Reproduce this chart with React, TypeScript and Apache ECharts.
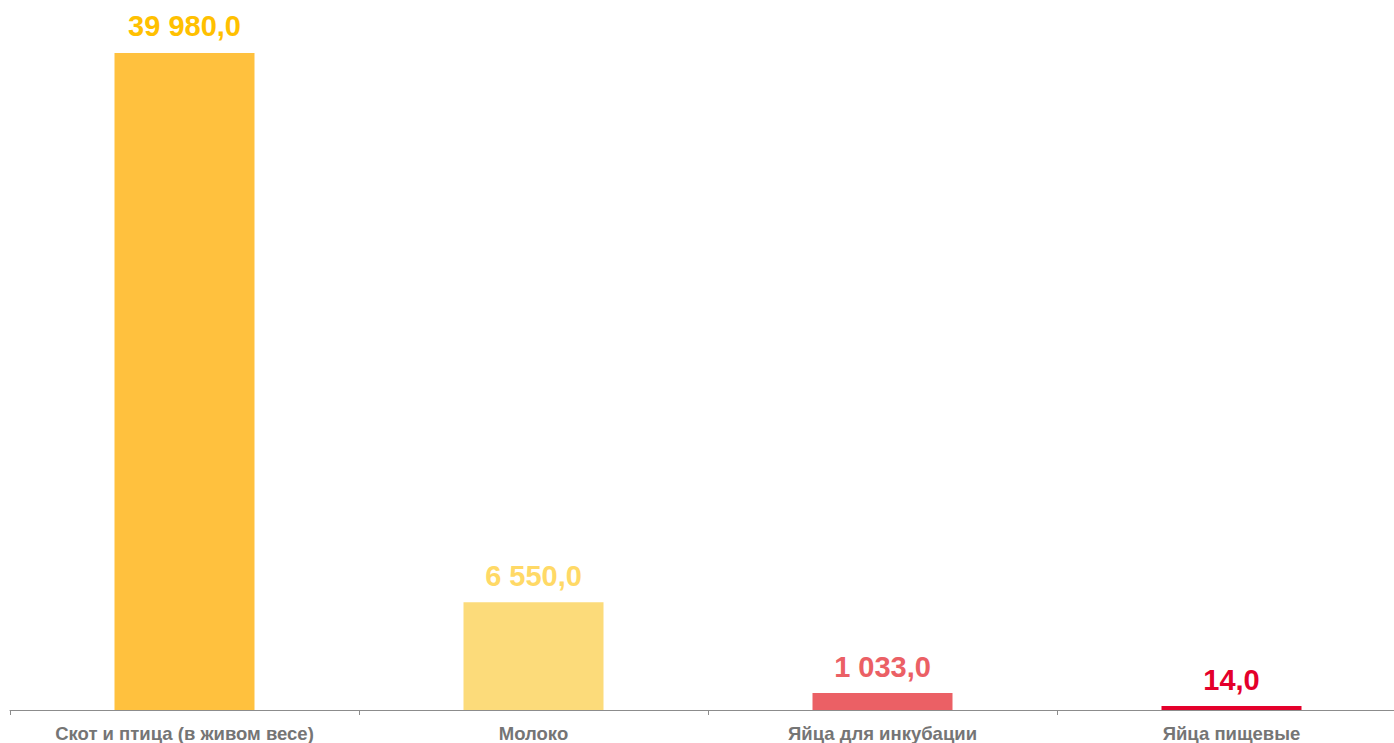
import React, { useEffect, useRef } from "react";
import * as echarts from "echarts";

const categories = ["Скот и птица (в живом весе)", "Молоко", "Яйца для инкубации", "Яйца пищевые"];
const values = [39980, 6550, 1033, 14];
const barColors = ["#FFC13E", "#FCDB7A", "#EB6065", "#E4002B"];
const labelColors = ["#FFC000", "#FFD966", "#EB6065", "#E4002B"];

function fmt(v: number): string {
  const parts = v.toFixed(1).split(".");
  const int = parts[0].replace(/\B(?=(\d{3})+(?!\d))/g, " ");
  return int + "," + parts[1];
}

export default function App() {
  const ref = useRef<HTMLDivElement>(null);
  useEffect(() => {
    if (!ref.current) return;
    const chart = echarts.init(ref.current, null, { renderer: "svg" });
    chart.setOption({
      animation: false,
      grid: { left: 10, top: 52.67, width: 1396, bottom: 32, containLabel: false },
      xAxis: {
        type: "category",
        data: categories,
        axisLine: { lineStyle: { color: "#8C8C8C", width: 1 } },
        axisTick: { show: true, length: 5, lineStyle: { color: "#8C8C8C" } },
        axisLabel: {
          color: "#757575",
          fontSize: 18.5,
          fontWeight: "bold",
          fontFamily: "Liberation Sans, Arial, sans-serif",
          margin: 14,
        },
      },
      yAxis: {
        type: "value",
        min: 0,
        max: 40000,
        show: false,
        splitLine: { show: false },
      },
      series: [
        {
          type: "bar",
          barWidth: 140,
          barMinHeight: 4,
          data: values.map((v, i) => ({
            value: v,
            itemStyle: { color: barColors[i] },
            label: { color: labelColors[i] },
          })),
          label: {
            show: true,
            position: "top",
            distance: 12,
            fontSize: 29,
            fontWeight: "bold",
            fontFamily: "Liberation Sans, Arial, sans-serif",
            formatter: (p: any) => fmt(p.value),
          },
        },
      ],
    });
    return () => chart.dispose();
  }, []);
  return (
    <div style={{ position: "absolute", left: 0, top: 0, width: 1394, height: 743, overflow: "hidden" }}>
      <div ref={ref} style={{ width: 1420, height: 743 }} />
    </div>
  );
}
